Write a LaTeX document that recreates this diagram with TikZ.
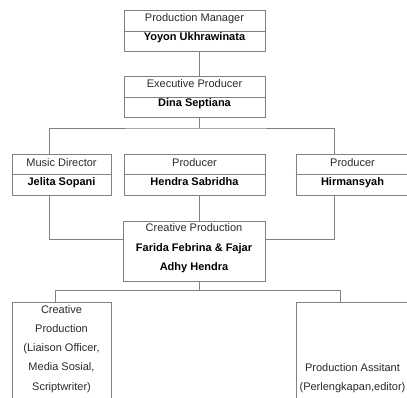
\documentclass[tikz,border=0pt]{standalone}
\usepackage{fontspec}
\setmainfont{Liberation Sans}
\begin{document}
\begin{tikzpicture}[x=1pt,y=-1pt,
  box/.style={draw=lineg, line width=0.8pt, fill=white, rectangle, inner sep=0pt},
  conn/.style={draw=lineg, line width=0.8pt},
  ttl/.style={anchor=base, inner sep=0pt, font=\fontsize{11}{13}\selectfont, text=txtg},
  nm/.style={anchor=base, inner sep=0pt, font=\fontsize{11}{13}\selectfont\bfseries, text=black}]
\definecolor{lineg}{HTML}{808080}
\definecolor{txtg}{HTML}{2A2A2A}
\useasboundingbox (0,0) rectangle (407,398);
\begin{scope}
\clip (0,0) rectangle (407,398);
% boxes
\node[box, minimum width=141pt, minimum height=41pt] (pm) at (194.5,30.5) {};
\node[box, minimum width=141pt, minimum height=41pt] (ep) at (194.5,96.5) {};
\node[box, minimum width=99pt, minimum height=41pt] (md) at (61.5,174.5) {};
\node[box, minimum width=141pt, minimum height=41pt] (pr) at (194.5,174.5) {};
\node[box, minimum width=113pt, minimum height=41pt] (hi) at (352.5,174.5) {};
\node[box, minimum width=142pt, minimum height=60pt] (cp) at (194,251) {};
\node[box, minimum width=99pt, minimum height=103pt] (cl) at (61.5,353.5) {};
\node[box, minimum width=113pt, minimum height=103pt] (cr) at (352.5,353.5) {};
% dividers
\coordinate (d1) at (0,31);
\coordinate (d2) at (0,97);
\coordinate (d3) at (0,174);
\draw[conn] (pm.west |- d1) -- (pm.east |- d1);
\draw[conn] (ep.west |- d2) -- (ep.east |- d2);
\draw[conn] (md.west |- d3) -- (md.east |- d3);
\draw[conn] (pr.west |- d3) -- (pr.east |- d3);
\draw[conn] (hi.west |- d3) -- (hi.east |- d3);
% connector guide coordinates
\coordinate (xm) at (199.5,0);
\coordinate (xl) at (49,0);
\coordinate (xr) at (334,0);
\coordinate (xbl) at (55,0);
\coordinate (xbr) at (340,0);
\coordinate (y1) at (0,128);
\coordinate (y2) at (0,239);
\coordinate (y3) at (0,290.5);
% connectors
\draw[conn] (pm.south -| xm) -- (ep.north -| xm);
\draw[conn] (ep.south -| xm) -- (xm |- y1);
\draw[conn] (md.north -| xl) |- (xm |- y1) -| (hi.north -| xr);
\draw[conn] (md.south -| xl) |- (cp.west |- y2);
\draw[conn] (hi.south -| xr) |- (cp.east |- y2);
\draw[conn] (pr.south -| xm) -- (cp.north -| xm);
\draw[conn] (cp.south -| xm) -- (xm |- y3);
\draw[conn] (cl.north -| xbl) |- (xm |- y3) -| (cr.north -| xbr);
% texts
\node[ttl] (t1) at (194.5,22) {Production Manager};
\node[nm] (n1) at (194.5,40.5) {Yoyon Ukhrawinata};
\node[ttl] (t2) at (194.5,87.5) {Executive Producer};
\node[nm] (n2) at (194.5,106.5) {Dina Septiana};
\node[ttl] (t3) at (61.5,166.5) {Music Director};
\node[nm] (n3) at (61.5,185.5) {Jelita Sopani};
\node[ttl] (t4) at (194.5,166.5) {Producer};
\node[nm] (n4) at (194.5,185.5) {Hendra Sabridha};
\node[ttl] (t5) at (352.5,166.5) {Producer};
\node[nm] (n5) at (352.5,185.5) {Hirmansyah};
\node[ttl] (t6) at (194,231.5) {Creative Production};
\node[nm] (n6a) at (194,251.5) {Farida Febrina \& Fajar};
\node[nm] (n6b) at (194,270.5) {Adhy Hendra};
\node[ttl] (t7a) at (61.5,313) {Creative};
\node[ttl] (t7b) at (61.5,332.3) {Production};
\node[ttl] (t7c) at (61.5,351.6) {(Liaison Officer,};
\node[ttl] (t7d) at (61.5,370.9) {Media Sosial,};
\node[ttl] (t7e) at (61.5,390.2) {Scriptwriter)};
\node[ttl] (t8a) at (352.5,371) {Production Assitant};
\node[ttl] (t8b) at (352.5,390.3) {(Perlengkapan,editor)};
\end{scope}
\end{tikzpicture}
\end{document}
